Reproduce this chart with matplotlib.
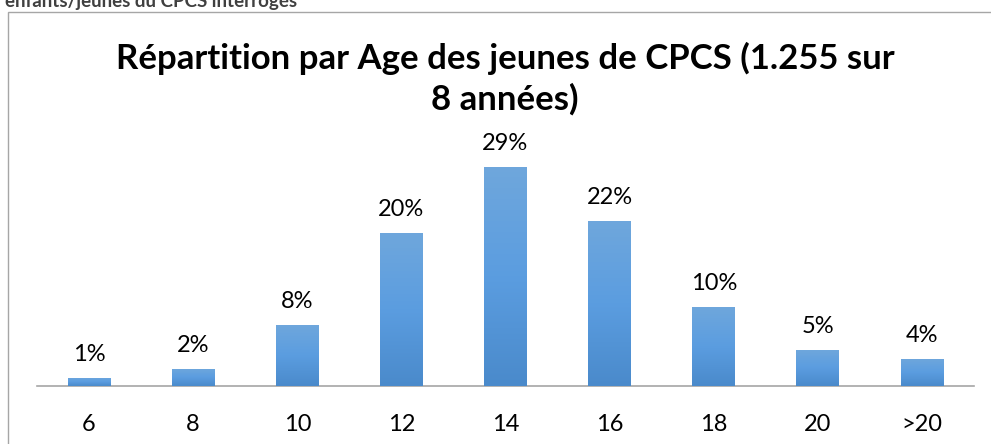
import matplotlib
matplotlib.use("Agg")
import matplotlib.pyplot as plt
import numpy as np
from matplotlib.patches import Rectangle
from matplotlib.colors import LinearSegmentedColormap

categories = ["6", "8", "10", "12", "14", "16", "18", "20", ">20"]
values = [1.1, 2.3, 8.1, 20.3, 29.0, 21.9, 10.5, 4.8, 3.6]
labels = ["1%", "2%", "8%", "20%", "29%", "22%", "10%", "5%", "4%"]
title = "Répartition par Age des jeunes de CPCS (1.255 sur\n8 années)"
top_text = "enfants/jeunes du CPCS interrogés"

W, H = 991, 444
fig = plt.figure(figsize=(W / 100, H / 100), dpi=100)
font = ["Lato", "DejaVu Sans"]

# outer frame (cropped)
fig.patches.append(Rectangle((8 / W, -0.1), 1.2, 1 - 12 / H + 0.1, transform=fig.transFigure,
                             fill=False, edgecolor="#a6a6a6", linewidth=1.0))
fig.text(5 / W, 1 - 7 / H, top_text, family=font, fontsize=13.5, fontweight="bold",
         color="#404040", va="baseline", ha="left")

ax_left, ax_right = 37, 974
ax_bottom, ax_top = 386, 140
ax = fig.add_axes([ax_left / W, 1 - ax_bottom / H, (ax_right - ax_left) / W, (ax_bottom - ax_top) / H])
ymax = (ax_bottom - ax_top) / ((386 - 167) / 29.0)
ax.set_xlim(-0.5, len(categories) - 0.5)
ax.set_ylim(0, ymax)

x = np.arange(len(categories))
bars = ax.bar(x, values, width=0.41, color="#5b9bd5", zorder=2)
cmap = LinearSegmentedColormap.from_list("g", ["#4a8acb", "#5b9de0", "#6fa7dc"])
grad = np.linspace(0, 1, 256).reshape(-1, 1)
for b in bars:
    x0, w, h = b.get_x(), b.get_width(), b.get_height()
    im = ax.imshow(grad, extent=[x0, x0 + w, 0, h], origin="lower", cmap=cmap,
                   aspect="auto", zorder=3)
    im.set_clip_path(b)

for xi, v, lab in zip(x, values, labels):
    ax.text(xi, v + 1.7, lab, ha="center", va="bottom", family=font, fontsize=17, color="#000000")

ax.set_xticks(x)
ax.set_xticklabels(categories, family=font, fontsize=17)
ax.tick_params(axis="x", length=0, pad=20)
ax.set_yticks([])
for s in ["top", "right", "left"]:
    ax.spines[s].set_visible(False)
ax.spines["bottom"].set_color("#a6a6a6")
ax.spines["bottom"].set_linewidth(1.2)
ax.set_facecolor("none")

fig.text(505 / W, 1 - 79 / H, title, family=font, fontsize=25, fontweight="bold",
         ha="center", va="center", linespacing=1.3)

fig.savefig("out.png", dpi=100)
